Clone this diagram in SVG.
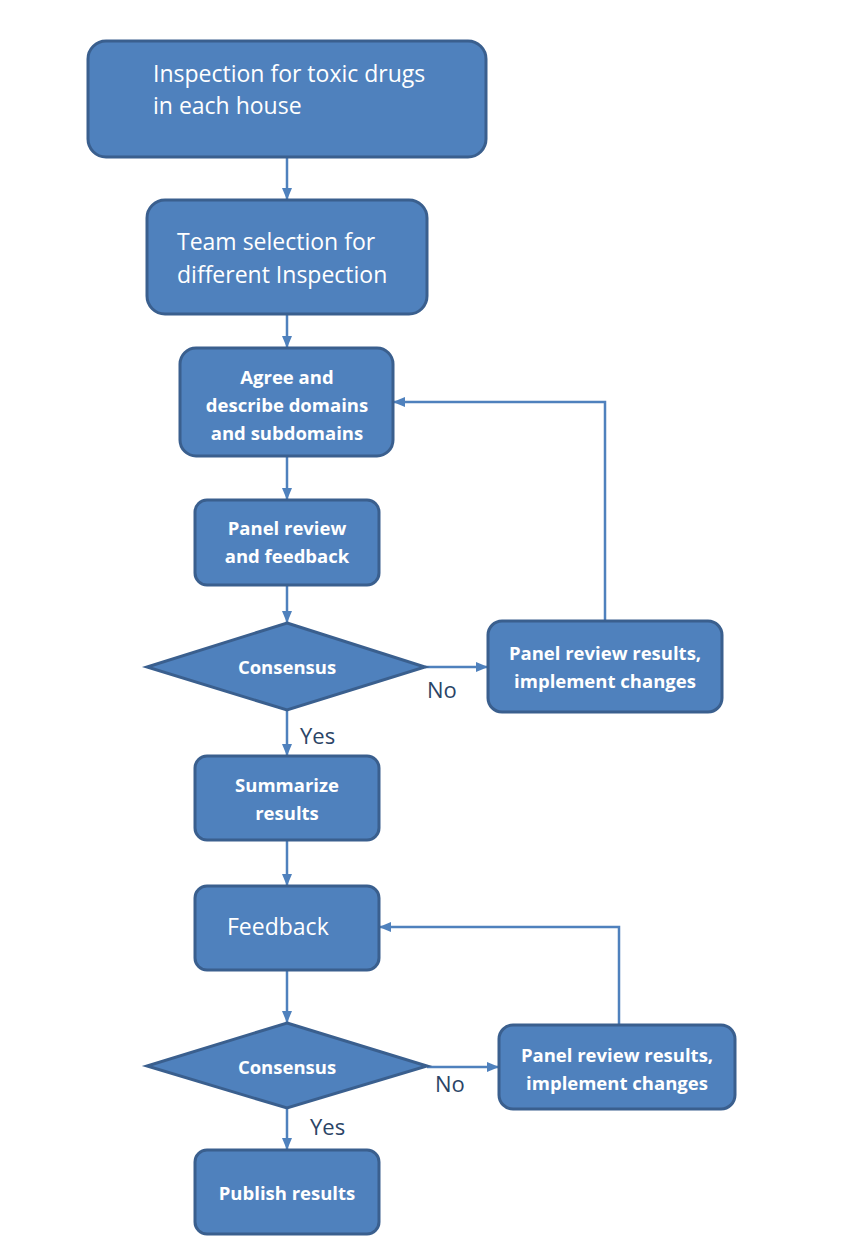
<svg xmlns="http://www.w3.org/2000/svg" width="850" height="1238" viewBox="0 0 850 1238">
<style>
.node{fill:#4f81bd;stroke:#3a5f8e;stroke-width:3}
.t{fill:#ffffff;font-family:"Open Sans","Noto Sans",sans-serif;font-size:23px}
.b{fill:#ffffff;font-family:"Open Sans","Noto Sans",sans-serif;font-size:18.5px;font-weight:bold;text-anchor:middle}
.lbl{fill:#2b4466;font-family:"Open Sans","Noto Sans",sans-serif;font-size:22px}
.c{fill:none;stroke:#4f81bd;stroke-width:2.5;marker-end:url(#ah)}
</style>
<defs>
<marker id="ah" markerWidth="12" markerHeight="10" refX="11" refY="5" orient="auto" markerUnits="userSpaceOnUse">
<path d="M0,0 L12,5 L0,10 Z" fill="#4f81bd"/>
</marker>
</defs>
<rect width="850" height="1238" fill="#ffffff"/>
<g id="connectors">
<path class="c" d="M287,157 V199"/>
<path class="c" d="M287,314 V347"/>
<path class="c" d="M287,456 V499"/>
<path class="c" d="M287,585 V622"/>
<path class="c" d="M425,667 H487"/>
<path class="c" d="M605,621 V402 H394"/>
<path class="c" d="M287,710 V755"/>
<path class="c" d="M287,840 V885"/>
<path class="c" d="M619,1025 V927 H380"/>
<path class="c" d="M287,970 V1022"/>
<path class="c" d="M427,1067 H498"/>
<path class="c" d="M287,1108 V1149"/>
<text class="lbl" x="427" y="698">No</text>
<text class="lbl" x="300" y="744">Yes</text>
<text class="lbl" x="435" y="1092">No</text>
<text class="lbl" x="310" y="1135">Yes</text>
</g>
<g id="n1">
<rect class="node" x="88" y="41" width="398" height="116" rx="18"/>
<text class="t" x="153" y="82">Inspection for toxic drugs</text>
<text class="t" x="153" y="114">in each house</text>
</g>
<g id="n2">
<rect class="node" x="147" y="200" width="280" height="114" rx="18"/>
<text class="t" x="177" y="250">Team selection for</text>
<text class="t" x="177" y="283">different Inspection</text>
</g>
<g id="n3">
<rect class="node" x="180" y="348" width="213" height="108" rx="16"/>
<text class="b" x="287" y="384">Agree and</text>
<text class="b" x="287" y="412">describe domains</text>
<text class="b" x="287" y="440">and subdomains</text>
</g>
<g id="n4">
<rect class="node" x="195" y="500" width="184" height="85" rx="12"/>
<text class="b" x="287" y="535">Panel review</text>
<text class="b" x="287" y="563">and feedback</text>
</g>
<g id="d1">
<polygon class="node" points="287,623 425,667 287,710 147,667"/>
<text class="b" x="287" y="674">Consensus</text>
</g>
<g id="n5">
<rect class="node" x="488" y="621" width="234" height="91" rx="14"/>
<text class="b" x="605" y="660">Panel review results,</text>
<text class="b" x="605" y="688">implement changes</text>
</g>
<g id="n6">
<rect class="node" x="195" y="756" width="184" height="84" rx="12"/>
<text class="b" x="287" y="792">Summarize</text>
<text class="b" x="287" y="820">results</text>
</g>
<g id="n7">
<rect class="node" x="195" y="886" width="184" height="84" rx="12"/>
<text class="t" x="227" y="935">Feedback</text>
</g>
<g id="d2">
<polygon class="node" points="287,1023 427,1066 287,1108 147,1066"/>
<text class="b" x="287" y="1074">Consensus</text>
</g>
<g id="n8">
<rect class="node" x="499" y="1025" width="236" height="84" rx="14"/>
<text class="b" x="617" y="1062">Panel review results,</text>
<text class="b" x="617" y="1090">implement changes</text>
</g>
<g id="n9">
<rect class="node" x="195" y="1150" width="184" height="84" rx="12"/>
<text class="b" x="287" y="1200">Publish results</text>
</g>
</svg>
